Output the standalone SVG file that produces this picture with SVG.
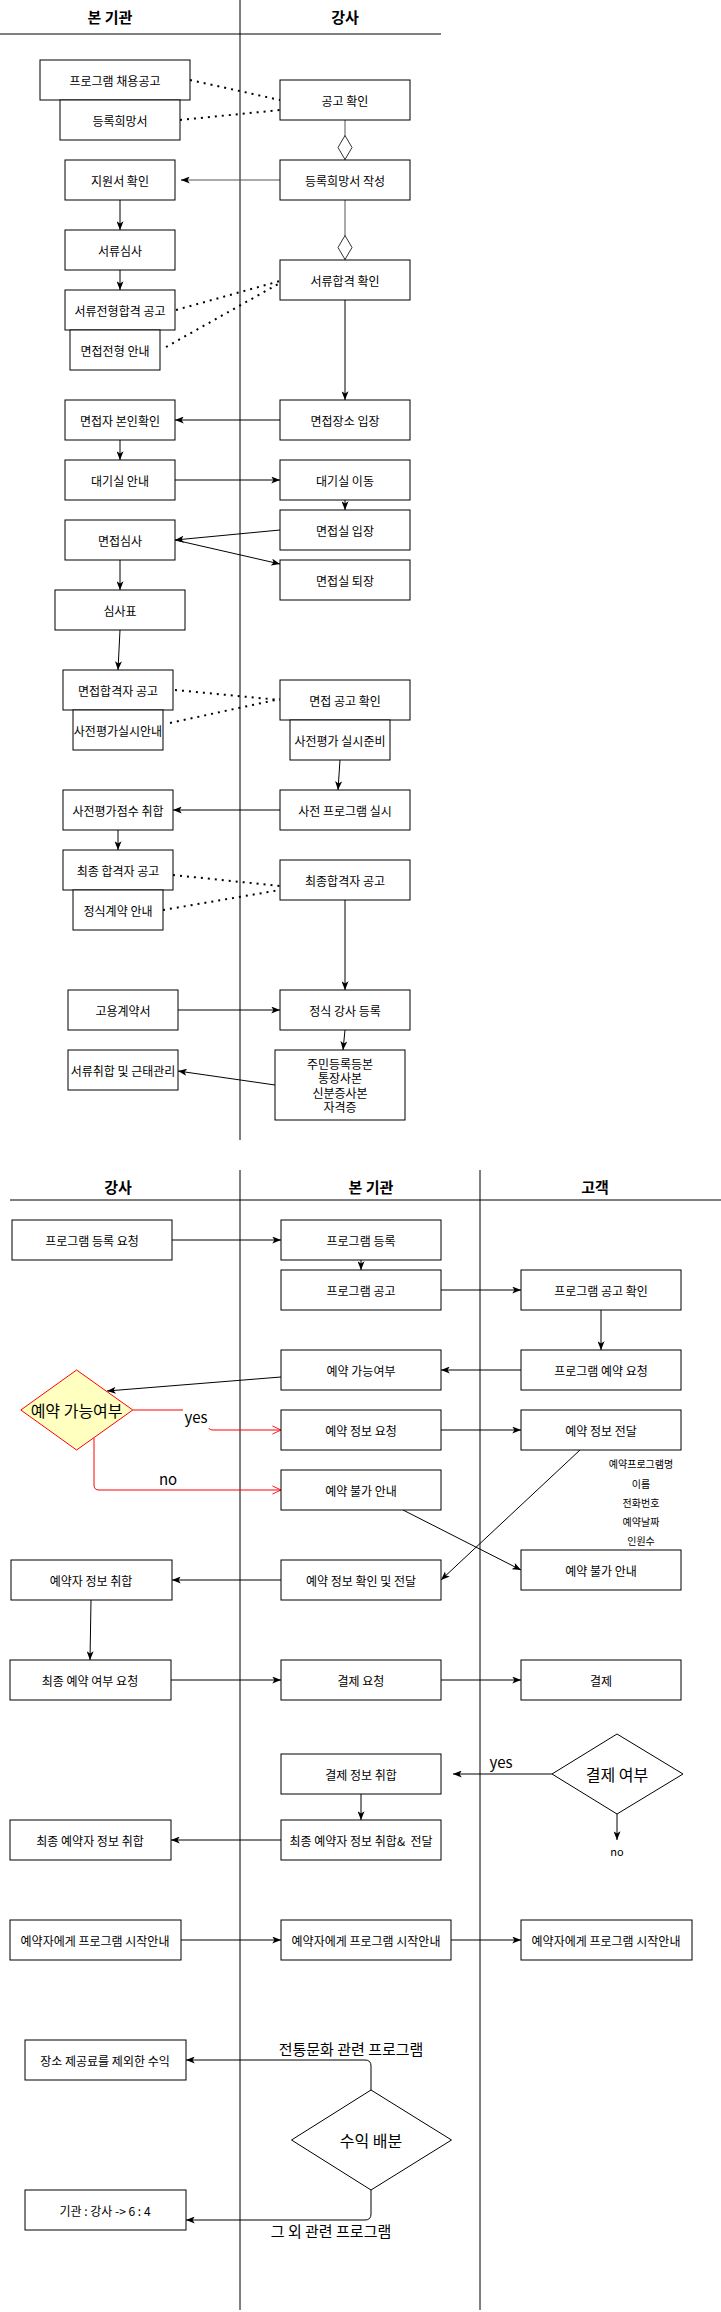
<svg xmlns="http://www.w3.org/2000/svg" width="721" height="2312" viewBox="0 0 721 2312">
<defs>
<style>
.n rect{fill:#fff;stroke:#000;stroke-width:1}
.t{font-family:"Noto Sans CJK KR","Liberation Sans",sans-serif;font-size:12px;text-anchor:middle;dominant-baseline:central;fill:#000}
.h{font-family:"Noto Sans CJK KR","Liberation Sans",sans-serif;font-size:15px;font-weight:bold;text-anchor:middle;dominant-baseline:central;fill:#000}
.big{font-size:16px}
.sm{font-size:10px}
.lab{font-family:"Noto Sans CJK KR","Liberation Sans",sans-serif;font-size:15px;text-anchor:middle;dominant-baseline:central;fill:#000}
.lane{stroke:#000;stroke-width:1;fill:none}
.c{stroke:#000;stroke-width:1;fill:none;marker-end:url(#a)}
.g{stroke:#555;stroke-width:1;fill:none}
.dm{stroke:#555;stroke-width:1;fill:none;marker-end:url(#d)}
.dot{stroke:#000;stroke-width:2;fill:none;stroke-dasharray:2 5}
.r{stroke:#f00;stroke-width:1;fill:none;marker-end:url(#o)}
</style>
<marker id="a" viewBox="0 0 10 8" refX="10" refY="4" markerWidth="9" markerHeight="7" markerUnits="userSpaceOnUse" orient="auto"><path d="M0,0 L10,4 L0,8 L2.5,4 Z" fill="#000"/></marker>
<marker id="o" viewBox="0 0 10 10" refX="9.5" refY="5" markerWidth="9" markerHeight="10" markerUnits="userSpaceOnUse" orient="auto"><path d="M0,0.5 L9.5,5 L0,9.5" fill="none" stroke="#f00" stroke-width="1"/></marker>
<marker id="d" viewBox="0 0 26 16" refX="25.5" refY="8" markerWidth="26" markerHeight="16" markerUnits="userSpaceOnUse" orient="auto"><path d="M1,8 L13,1 L25,8 L13,15 Z" fill="#fff" stroke="#333" stroke-width="1"/></marker>
</defs>
<rect x="0" y="0" width="721" height="2312" fill="#fff"/>

<g id="lanes">
<line class="lane" x1="240" y1="0" x2="240" y2="1140"/>
<line class="lane" x1="0" y1="34" x2="441" y2="34"/>
<text class="h" x="110" y="16">본 기관</text>
<text class="h" x="345" y="16">강사</text>
<line class="lane" x1="240" y1="1170" x2="240" y2="2310"/>
<line class="lane" x1="480" y1="1170" x2="480" y2="2310"/>
<line class="lane" x1="10" y1="1200" x2="721" y2="1200"/>
<text class="h" x="118" y="1186">강사</text>
<text class="h" x="371" y="1186">본 기관</text>
<text class="h" x="595" y="1186">고객</text>
</g>

<g id="connectors">
<path class="dot" d="M190,80 L280,100"/>
<path class="dot" d="M180,120 L280,110"/>
<path class="dm" d="M345,120 V160"/>
<path class="g" d="M280,180 H188"/>
<path class="c" d="M188,180 H181"/>
<path class="c" d="M120,200 V230"/>
<path class="c" d="M120,270 V290"/>
<path class="dm" d="M345,200 V260"/>
<path class="dot" d="M176,310 L280,281"/>
<path class="dot" d="M166,347 L280,283"/>
<path class="c" d="M345,300 V400"/>
<path class="c" d="M280,420 H175"/>
<path class="c" d="M120,440 V460"/>
<path class="c" d="M175,480 H280"/>
<path class="c" d="M345,500 V510"/>
<path class="c" d="M280,530 L175,540"/>
<path class="c" d="M175,540 L280,564"/>
<path class="c" d="M120,560 V590"/>
<path class="c" d="M120,630 L118,670"/>
<path class="dot" d="M175,690 L280,700"/>
<path class="dot" d="M170,723 L280,699"/>
<path class="c" d="M340,760 L338,790"/>
<path class="c" d="M280,810 H173"/>
<path class="c" d="M118,830 V850"/>
<path class="dot" d="M173,875 L280,886"/>
<path class="dot" d="M163,910 L280,890"/>
<path class="c" d="M345,900 V990"/>
<path class="c" d="M178,1010 H280"/>
<path class="c" d="M345,1030 L343,1050"/>
<path class="c" d="M275,1085 L178,1071"/>

<path class="c" d="M172,1240 H281"/>
<path class="c" d="M361,1260 V1270"/>
<path class="c" d="M441,1290 H521"/>
<path class="c" d="M601,1310 V1350"/>
<path class="c" d="M521,1370 H441"/>
<path class="c" d="M281,1377 L107,1391"/>
<path class="r" d="M133,1410 H203 Q208,1410 208,1415 V1425 Q208,1430 213,1430 H281"/>
<rect x="183" y="1403" width="26" height="25" fill="#fff"/>
<text class="lab" x="196" y="1416">yes</text>
<path class="r" d="M94,1438 V1485 Q94,1490 99,1490 H281"/>
<text class="lab" x="168" y="1478">no</text>
<path class="c" d="M441,1430 H521"/>
<path class="c" d="M580,1450 L441,1580"/>
<path class="c" d="M403,1510 L521,1570"/>
<path class="c" d="M281,1580 H172"/>
<path class="c" d="M91,1600 L90,1660"/>
<path class="c" d="M171,1680 H281"/>
<path class="c" d="M441,1680 H521"/>
<path class="c" d="M552,1774 H453"/>
<text class="lab" x="501" y="1761">yes</text>
<path class="c" d="M617,1814 V1840"/>
<text class="t" x="617" y="1851" style="font-size:11px">no</text>
<path class="c" d="M361,1794 V1820"/>
<path class="c" d="M281,1840 H171"/>
<path class="c" d="M181,1940 H281"/>
<path class="c" d="M451,1940 H521"/>
<path class="c" d="M371,2090 V2066 Q371,2060 365,2060 H186"/>
<text class="lab big" x="351" y="2048">전통문화 관련 프로그램</text>
<path class="c" d="M371,2190 V2214 Q371,2220 365,2220 H186"/>
<text class="lab big" x="331" y="2230">그 외 관련 프로그램</text>
</g>

<g id="n1" class="n"><rect x="40" y="60" width="150" height="40"/><text class="t" x="115" y="80">프로그램 채용공고</text></g>
<g id="n2" class="n"><rect x="60" y="100" width="120" height="40"/><text class="t" x="120" y="120">등록희망서</text></g>
<g id="n3" class="n"><rect x="280" y="80" width="130" height="40"/><text class="t" x="345" y="100">공고 확인</text></g>
<g id="n4" class="n"><rect x="280" y="160" width="130" height="40"/><text class="t" x="345" y="180">등록희망서 작성</text></g>
<g id="n5" class="n"><rect x="65" y="160" width="110" height="40"/><text class="t" x="120" y="180">지원서 확인</text></g>
<g id="n6" class="n"><rect x="65" y="230" width="110" height="40"/><text class="t" x="120" y="250">서류심사</text></g>
<g id="n7" class="n"><rect x="65" y="290" width="110" height="40"/><text class="t" x="120" y="310">서류전형합격 공고</text></g>
<g id="n8" class="n"><rect x="70" y="330" width="90" height="40"/><text class="t" x="115" y="350">면접전형 안내</text></g>
<g id="n9" class="n"><rect x="280" y="260" width="130" height="40"/><text class="t" x="345" y="280">서류합격 확인</text></g>
<g id="n10" class="n"><rect x="65" y="400" width="110" height="40"/><text class="t" x="120" y="420">면접자 본인확인</text></g>
<g id="n11" class="n"><rect x="280" y="400" width="130" height="40"/><text class="t" x="345" y="420">면접장소 입장</text></g>
<g id="n12" class="n"><rect x="65" y="460" width="110" height="40"/><text class="t" x="120" y="480">대기실 안내</text></g>
<g id="n13" class="n"><rect x="280" y="460" width="130" height="40"/><text class="t" x="345" y="480">대기실 이동</text></g>
<g id="n14" class="n"><rect x="280" y="510" width="130" height="40"/><text class="t" x="345" y="530">면접실 입장</text></g>
<g id="n15" class="n"><rect x="65" y="520" width="110" height="40"/><text class="t" x="120" y="540">면접심사</text></g>
<g id="n16" class="n"><rect x="280" y="560" width="130" height="40"/><text class="t" x="345" y="580">면접실 퇴장</text></g>
<g id="n17" class="n"><rect x="55" y="590" width="130" height="40"/><text class="t" x="120" y="610">심사표</text></g>
<g id="n18" class="n"><rect x="63" y="670" width="110" height="40"/><text class="t" x="118" y="690">면접합격자 공고</text></g>
<g id="n19" class="n"><rect x="73" y="710" width="90" height="40"/><text class="t" x="118" y="730">사전평가실시안내</text></g>
<g id="n20" class="n"><rect x="280" y="680" width="130" height="40"/><text class="t" x="345" y="700">면접 공고 확인</text></g>
<g id="n21" class="n"><rect x="290" y="720" width="100" height="40"/><text class="t" x="340" y="740">사전평가 실시준비</text></g>
<g id="n22" class="n"><rect x="63" y="790" width="110" height="40"/><text class="t" x="118" y="810">사전평가점수 취합</text></g>
<g id="n23" class="n"><rect x="280" y="790" width="130" height="40"/><text class="t" x="345" y="810">사전 프로그램 실시</text></g>
<g id="n24" class="n"><rect x="63" y="850" width="110" height="40"/><text class="t" x="118" y="870">최종 합격자 공고</text></g>
<g id="n25" class="n"><rect x="73" y="890" width="90" height="40"/><text class="t" x="118" y="910">정식계약 안내</text></g>
<g id="n26" class="n"><rect x="280" y="860" width="130" height="40"/><text class="t" x="345" y="880">최종합격자 공고</text></g>
<g id="n27" class="n"><rect x="68" y="990" width="110" height="40"/><text class="t" x="123" y="1010">고용계약서</text></g>
<g id="n28" class="n"><rect x="280" y="990" width="130" height="40"/><text class="t" x="345" y="1010">정식 강사 등록</text></g>
<g id="n29" class="n"><rect x="275" y="1050" width="130" height="70"/><text class="t" x="340" y="1063">주민등록등본</text><text class="t" x="340" y="1077.5">통장사본</text><text class="t" x="340" y="1092">신분증사본</text><text class="t" x="340" y="1106.5">자격증</text></g>
<g id="n30" class="n"><rect x="68" y="1050" width="110" height="40"/><text class="t" x="123" y="1070">서류취합 및 근태관리</text></g>

<g id="m1" class="n"><rect x="12" y="1220" width="160" height="40"/><text class="t" x="92" y="1240">프로그램 등록 요청</text></g>
<g id="m2" class="n"><rect x="281" y="1220" width="160" height="40"/><text class="t" x="361" y="1240">프로그램 등록</text></g>
<g id="m3" class="n"><rect x="281" y="1270" width="160" height="40"/><text class="t" x="361" y="1290">프로그램 공고</text></g>
<g id="m4" class="n"><rect x="521" y="1270" width="160" height="40"/><text class="t" x="601" y="1290">프로그램 공고 확인</text></g>
<g id="m5" class="n"><rect x="281" y="1350" width="160" height="40"/><text class="t" x="361" y="1370">예약 가능여부</text></g>
<g id="m6" class="n"><rect x="521" y="1350" width="160" height="40"/><text class="t" x="601" y="1370">프로그램 예약 요청</text></g>
<g id="m7"><polygon points="20.8,1410 76.6,1370 132.8,1410 76.6,1450" fill="#ffffc0" stroke="#f00" stroke-width="1"/><text class="t big" x="76.6" y="1410">예약 가능여부</text></g>
<g id="m8" class="n"><rect x="281" y="1410" width="160" height="40"/><text class="t" x="361" y="1430">예약 정보 요청</text></g>
<g id="m9" class="n"><rect x="521" y="1410" width="160" height="40"/><text class="t" x="601" y="1430">예약 정보 전달</text></g>
<g id="m10" class="n"><rect x="281" y="1470" width="160" height="40"/><text class="t" x="361" y="1490">예약 불가 안내</text></g>
<g id="m11"><text class="t sm" x="641" y="1463">예약프로그램명</text><text class="t sm" x="641" y="1483">이름</text><text class="t sm" x="641" y="1502">전화번호</text><text class="t sm" x="641" y="1521">예약날짜</text><text class="t sm" x="641" y="1540">인원수</text></g>
<g id="m12" class="n"><rect x="521" y="1550" width="160" height="40"/><text class="t" x="601" y="1570">예약 불가 안내</text></g>
<g id="m13" class="n"><rect x="281" y="1560" width="160" height="40"/><text class="t" x="361" y="1580">예약 정보 확인 및 전달</text></g>
<g id="m14" class="n"><rect x="11" y="1560" width="161" height="40"/><text class="t" x="91" y="1580">예약자 정보 취합</text></g>
<g id="m15" class="n"><rect x="10" y="1660" width="161" height="40"/><text class="t" x="90" y="1680">최종 예약 여부 요청</text></g>
<g id="m16" class="n"><rect x="281" y="1660" width="160" height="40"/><text class="t" x="361" y="1680">결제 요청</text></g>
<g id="m17" class="n"><rect x="521" y="1660" width="160" height="40"/><text class="t" x="601" y="1680">결제</text></g>
<g id="m18"><polygon points="552,1774 617,1734 683,1774 617,1814" fill="#fff" stroke="#000" stroke-width="1"/><text class="t big" x="617" y="1774">결제 여부</text></g>
<g id="m19" class="n"><rect x="281" y="1754" width="160" height="40"/><text class="t" x="361" y="1774">결제 정보 취합</text></g>
<g id="m20" class="n"><rect x="281" y="1820" width="160" height="40"/><text class="t" x="361" y="1840" xml:space="preserve">최종 예약자 정보 취합&amp;  전달</text></g>
<g id="m21" class="n"><rect x="10" y="1820" width="161" height="40"/><text class="t" x="90" y="1840">최종 예약자 정보 취합</text></g>
<g id="m22" class="n"><rect x="10" y="1920" width="171" height="40"/><text class="t" x="95" y="1940">예약자에게 프로그램 시작안내</text></g>
<g id="m23" class="n"><rect x="281" y="1920" width="170" height="40"/><text class="t" x="366" y="1940">예약자에게 프로그램 시작안내</text></g>
<g id="m24" class="n"><rect x="521" y="1920" width="171" height="40"/><text class="t" x="606" y="1940">예약자에게 프로그램 시작안내</text></g>
<g id="m25" class="n"><rect x="25" y="2040" width="161" height="40"/><text class="t" x="105" y="2060">장소 제공료를 제외한 수익</text></g>
<g id="m26" class="n"><rect x="25" y="2190" width="161" height="40"/><text class="t" x="105" y="2210">기관 : 강사 -&gt; 6 : 4</text></g>
<g id="m27"><polygon points="291.5,2140 371,2090 451.5,2140 371,2190" fill="#fff" stroke="#000" stroke-width="1"/><text class="t big" x="371" y="2140">수익 배분</text></g>
</svg>
